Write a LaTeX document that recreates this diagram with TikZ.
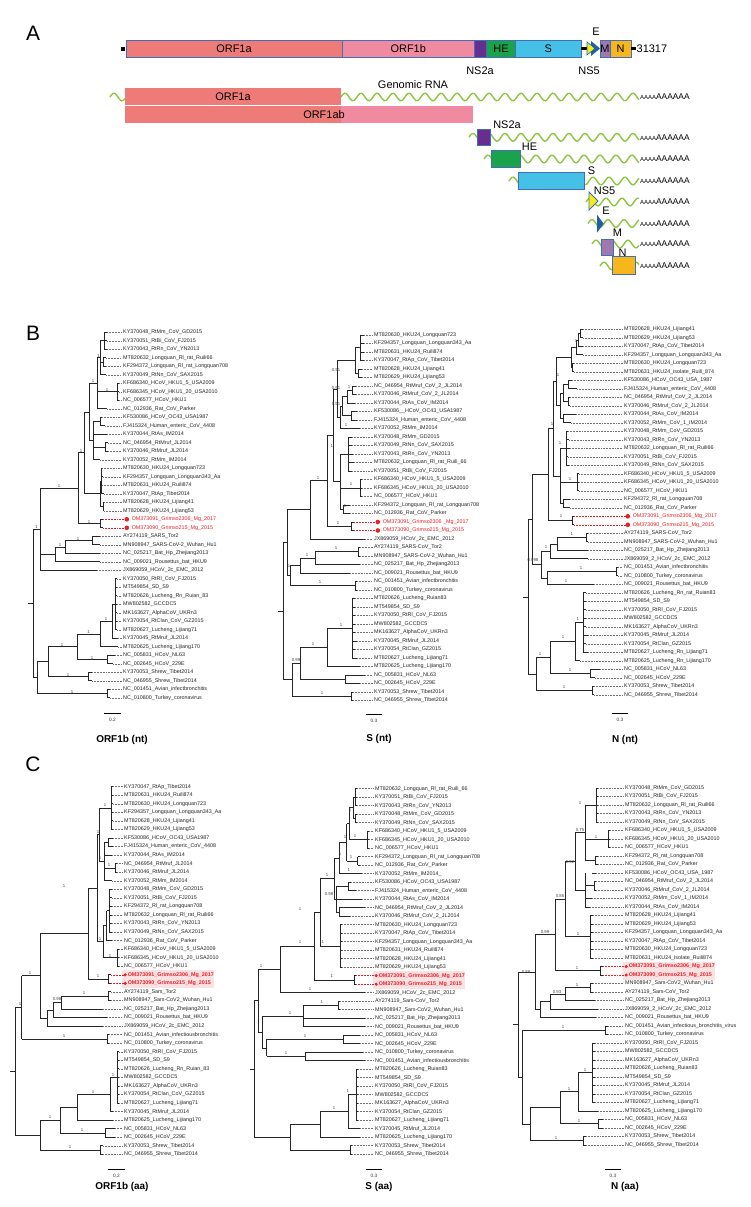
\documentclass[tikz,border=0pt]{standalone}
\usepackage{fontspec}
\setmainfont{Liberation Sans}
\usetikzlibrary{calc}
\definecolor{orfA}{RGB}{239,123,120}
\definecolor{orfB}{RGB}{240,138,160}
\definecolor{ns2aC}{RGB}{103,45,145}
\definecolor{heC}{RGB}{26,163,74}
\definecolor{sC}{RGB}{69,193,232}
\definecolor{ns5C}{RGB}{246,235,22}
\definecolor{eC}{RGB}{30,95,170}
\definecolor{mC}{RGB}{158,120,174}
\definecolor{nC}{RGB}{245,183,27}
\definecolor{bord}{RGB}{66,110,180}
\definecolor{wv}{RGB}{141,198,63}
\definecolor{redc}{RGB}{232,32,40}
\definecolor{hlc}{RGB}{251,226,226}
\newcounter{lfc}
\newcounter{spc}
\newcommand\tLX{123}
\newcommand\gA{\fontsize{11}{12}\selectfont}
\newcommand\tLF[4]{\stepcounter{lfc}%
  \draw[br] (#1,#3) -- (#2,#3);
  \draw[ld] (#2,#3) -- ({\tLX-1.5},#3);
  \node[lab] (lf\arabic{lfc}) at (\tLX,#3) {\detokenize{#4}};}
\newcommand\tRB[4]{\stepcounter{lfc}%
  \draw[br] (#1,#3) -- (#2,#3);
  \draw[ldr] (#2,#3) -- ({\tLX+1.2},#3);
  \node[circle, fill=redc, inner sep=0pt, minimum size=4.6bp] (dt\arabic{lfc}) at ({\tLX+3.8},#3) {};
  \node[labr] (lf\arabic{lfc}) at ({\tLX+8.6},#3) {\detokenize{#4}};}
\newcommand\tRC[4]{\stepcounter{lfc}%
  \draw[br] (#1,#3) -- (#2,#3);
  \draw[ldr] (#2,#3) -- ({\tLX-0.5},#3);
  \node[circle, fill=redc, inner sep=0pt, minimum size=3.4bp] (dt\arabic{lfc}) at ({\tLX+1.2},#3) {};
  \node[labrb] (lf\arabic{lfc}) at ({\tLX+3.6},#3) {\detokenize{#4}};}
\newcommand\tCL[4]{\draw[br] (#1,{(#3+#4)/2}) -- (#2,{(#3+#4)/2}) (#2,#3) -- (#2,#4);}
\newcommand\tSP[3]{\stepcounter{spc}\node[sup] (sp\arabic{spc}) at (#1,#2) {#3};}
\tikzset{
  br/.style={draw=black!85, line width=0.85bp},
  ld/.style={draw=black!55, line width=0.45bp, dash pattern=on 0.45bp off 1.1bp},
  ldr/.style={draw=redc, line width=0.45bp, dash pattern=on 0.45bp off 1.1bp},
  lab/.style={anchor=west, inner sep=0pt, font=\fontsize{5.4}{6}\selectfont, text=black!85},
  labr/.style={lab, text=redc},
  labrb/.style={lab, text=redc, font=\fontsize{5.4}{6}\selectfont\bfseries},
  sup/.style={anchor=south, inner sep=0.3bp, font=\fontsize{4.3}{5}\selectfont, text=black!75},
  box/.style={draw=bord, line width=0.8bp, inner sep=0pt, minimum height=17bp, font=\gA},
  wave/.style={draw=wv, line width=1.4bp},
  panel/.style={font=\fontsize{21}{21}\selectfont, inner sep=0pt},
  ttl/.style={font=\fontsize{10}{12}\selectfont\bfseries, inner sep=0pt},
  sbar/.style={draw=black, line width=0.9bp},
  snum/.style={font=\fontsize{4.8}{5}\selectfont, inner sep=0pt, text=black!80},
  gl/.style={font=\gA, inner sep=0.5bp}
}
\newcommand\twave[3]{\draw[wave] plot[domain=#1:#2, samples=160, smooth] (\x,{#3-3.8*sin(22.5*(\x-#1))});}
\newcommand\polyA[1]{\node[anchor=west, inner sep=0pt] at (640,#1) {{\fontsize{6}{6}\selectfont AAAA}{\fontsize{8.4}{8}\selectfont AAAAAA}};}
\begin{document}
\begin{tikzpicture}[x=1bp, y=-1bp]
\fill[white] (0,0) rectangle (751,1207);
\useasboundingbox (0,0) rectangle (751,1207);
% ---------------- panel letters
\node[panel] (pA) at (33,33) {A};
\node[panel] (pB) at (33,333) {B};
\node[panel] (pC) at (33,764) {C};
% ---------------- genome bar
\fill[black] (121,47) rectangle (125,50.5);
\node[box, fill=orfA, minimum width=216bp] (g1a) at (234,48.5) {ORF1a};
\node[box, fill=orfB, minimum width=132.5bp] (g1b) at (408.25,48.5) {ORF1b};
\node[box, fill=ns2aC, minimum width=12.1bp] (gns2a) at (480.55,48.5) {};
\node[box, fill=heC, minimum width=28.8bp] (ghe) at (501,48.5) {HE};
\node[box, fill=sC, minimum width=65.6bp] (gs) at (548.2,48.5) {S};
\draw[line width=3bp] (gs.east) -- (588,48.5);
\fill[eC] (591,41) -- (600,48.5) -- (591,56) -- cycle;
\filldraw[fill=ns5C, draw=eC, line width=0.6bp] (587,42) -- (595,48.5) -- (587,55) -- cycle;
\node[box, fill=mC, minimum width=10bp] (gm) at (605,48.5) {M};
\node[box, fill=nC, minimum width=21bp] (gn) at (620.5,48.5) {N};
\draw[line width=3bp] (gn.east) -- (636,48.5);
\node[gl, anchor=west] (glen) at (636,48.5) {31317};
\node[gl] (lE) at (596,32) {E};
\node[gl] (lNS2a) at (480,71) {NS2a};
\node[gl] (lNS5) at (589,71) {NS5};
% ---------------- transcripts
\node[gl] (lgen) at (413,84.5) {Genomic RNA};
\twave{110}{125}{97}
\twave{341}{639}{97}
\twave{469}{639}{137.3}
\twave{484}{639}{159}
\twave{509}{639}{181}
\twave{586}{639}{202}
\twave{588}{639}{223.5}
\twave{592}{639}{244}
\twave{600}{639}{266}
\polyA{97}\polyA{137.3}\polyA{159}\polyA{181}\polyA{202}\polyA{223.5}\polyA{244}\polyA{266}
\fill[orfA] (125,88) rectangle (341,105);
\node[gl] (t1a) at (233,96.5) {ORF1a};
\fill[orfA] (125,106) rectangle (341,123);
\fill[orfB] (341,106) rectangle (473,123);
\node[gl] (t1ab) at (324,114.5) {ORF1ab};
\node[box, fill=ns2aC, minimum width=13bp, minimum height=16.7bp] (tns2a) at (484,137.4) {};
\node[gl] (tlns2a) at (507,125) {NS2a};
\node[box, fill=heC, minimum width=29bp, minimum height=16.6bp] (the) at (505.5,159) {};
\node[gl] (tlhe) at (529.5,147) {HE};
\node[box, fill=sC, minimum width=65.3bp, minimum height=16.7bp] (ts) at (551.35,180.65) {};
\node[gl] (tls) at (591.5,170.7) {S};
\filldraw[fill=ns5C, draw=bord, line width=0.8bp] (589,192) -- (598,201) -- (589,210) -- cycle;
\node[gl] (tlns5) at (604.5,191) {NS5};
\fill[eC] (597,214.7) -- (603.6,223.7) -- (597,232.7) -- cycle;
\node[gl] (tle) at (606,210.7) {E};
\node[box, fill=mC, minimum width=11.5bp, minimum height=16.7bp] (tm) at (607.25,247.35) {};
\node[gl] (tlm) at (617.5,233) {M};
\node[box, fill=nC, minimum width=23.7bp, minimum height=17.3bp] (tn) at (623.85,265.35) {};
\node[gl] (tln) at (622.7,253) {N};
% =============== TREE B1  ORF1b (nt)
\renewcommand\tLX{123}
\begin{scope}[shift={(0,332.3)}, yscale=8.5]
\tLF{104}{107}{0}{KY370048_RtMm_CoV_GD2015}
\tLF{104}{107}{1}{KY370051_RtBi_CoV_FJ2015}
\tLF{104}{107}{2}{KY370043_RtRn_CoV_YN2013}
\tLF{103}{106}{3}{MT820632_Longquan_Rl_rat_Ruili66}
\tLF{103}{106}{4}{KF294372_Longquan_Rl_rat_Longquan708}
\tLF{100}{106}{5}{KY370049_RtNn_CoV_SAX2015}
\tLF{117}{119}{6}{KF686340_HCoV_HKU1_5_USA2009}
\tLF{117}{119}{7}{KF686345_HCoV_HKU1_20_USA2010}
\tLF{117}{119}{8}{NC_006577_HCoV_HKU1}
\tLF{97}{107}{9}{NC_012936_Rat_CoV_Parker}
\tLF{100}{102}{10}{KF530086_HCoV_OC43_USA1987}
\tLF{100}{105}{11}{FJ415324_Human_enteric_CoV_4408}
\tLF{93}{107}{12}{KY370044_RtAs_IM2014}
\tLF{105}{108}{13}{NC_046954_RtMruf_JL2014}
\tLF{105}{108}{14}{KY370046_RtMruf_JL2014}
\tLF{93}{100}{15}{KY370052_RtMm_IM2014}
\tLF{101}{102}{16}{MT820630_HKU24_Longquan723}
\tLF{101}{103}{17}{KF294357_Longquan_Longquan343_Aa}
\tLF{101}{102}{18}{MT820631_HKU24_Ruili874}
\tLF{101}{104}{19}{KY370047_RtAp_Tibet2014}
\tLF{103}{104}{20}{MT820628_HKU24_Lijiang41}
\tLF{103}{104}{21}{MT820629_HKU24_Lijiang53}
\tRB{100}{103}{22}{OM373091_Grimso2306_Mg_2017}
\tRB{100}{103}{23}{OM373090_Grimso215_Mg_2015}
\tLF{92}{100}{24}{AY274119_SARS_Tor2}
\tLF{92}{100}{25}{MN908947_SARS-CoV-2_Wuhan_Hu1}
\tLF{65}{100}{26}{NC_025217_Bat_Hp_Zhejiang2013}
\tLF{55}{100}{27}{NC_009021_Rousettus_bat_HKU9}
\tLF{40}{97}{28}{JX869059_HCoV_2c_EMC_2012}
\tLF{115}{117}{29}{KY370050_RtRl_CoV_FJ2015}
\tLF{115}{117}{30}{MT549854_SD_S9}
\tLF{115}{117}{31}{MT820626_Lucheng_Rn_Ruian_83}
\tLF{115}{117}{32}{MW802582_GCCDC5}
\tLF{115}{117}{33}{MK163627_AlphaCoV_UKRn3}
\tLF{115}{117}{34}{KY370054_RtClan_CoV_GZ2015}
\tLF{115}{117}{35}{MT820627_Lucheng_Lijiang71}
\tLF{112}{118}{36}{KY370045_RtMruf_JL2014}
\tLF{100}{118}{37}{MT820625_Lucheng_Lijiang170}
\tLF{107}{115}{38}{NC_005831_HCoV_NL63}
\tLF{107}{113}{39}{NC_002645_HCoV_229E}
\tLF{88}{92}{40}{KY370053_Shrew_Tibet2014}
\tLF{88}{92}{41}{NC_046955_Shrew_Tibet2014}
\tLF{107}{110}{42}{NC_001451_Avian_infectbronchitis}
\tLF{107}{110}{43}{NC_010800_Turkey_coronavirus}
\tCL{100}{104}{0}{2}
\tCL{100}{103}{3}{4}
\tCL{97}{100}{1}{5}
\tCL{97}{117}{6}{8}
\tCL{89}{97}{3}{9}
\tCL{93}{100}{10}{11}
\tCL{93}{105}{13}{14}
\tCL{89}{93}{10.5}{15}
\tCL{84}{89}{6}{12.75}
\tCL{100}{101}{16}{19}
\tCL{100}{103}{20}{21}
\tCL{84}{100}{17.5}{20.5}
\tCL{78}{84}{9.375}{19}
\tCL{78}{100}{22}{23}
\tCL{40}{78}{14.1875}{22.5}
\tCL{65}{92}{24}{25}
\tCL{55}{65}{24.5}{26}
\tCL{40}{55}{25.25}{27}
\tCL{33}{40}{18.34}{28}
\tCL{112}{115}{29}{35}
\tCL{100}{112}{32}{36}
\tCL{77}{100}{34}{37}
\tCL{77}{107}{38}{39}
\tCL{48}{77}{35.5}{38.5}
\tCL{48}{88}{40}{41}
\tCL{37}{48}{37}{40.5}
\tCL{37}{107}{42}{43}
\tCL{33}{37}{38.75}{42.5}
\draw[br] (33,23.17) -- (33,40.625) (28,31.9) -- (33,31.9);
\tSP{98.5}{3}{1}\tSP{107}{7}{1}\tSP{93}{6}{1}\tSP{81}{14.19}{1}\tSP{59}{18.34}{1}
\tSP{89}{22.5}{1}\tSP{36.5}{23.17}{1}\tSP{60}{25.25}{1}\tSP{78}{24.5}{1}\tSP{106}{34}{1}
\tSP{88.5}{35.5}{1}\tSP{92}{38.5}{1}\tSP{62}{37}{1}\tSP{72}{42.5}{1}\tSP{68}{40.5}{1}
\end{scope}
\draw[sbar] (104,713) -- (121,713);
\node[snum] (sb1) at (112.5,719.5) {0.2};
\node[ttl] (tb1) at (122,740) {ORF1b (nt)};
% =============== TREE B2  S (nt)
\renewcommand\tLX{374}
\begin{scope}[shift={(0,335)}, yscale=8.5]
\tLF{360}{364}{0}{MT820630_HKU24_Longquan723}
\tLF{360}{364}{1}{KF294357_Longquan_Longquan343_Aa}
\tLF{360}{364}{2}{MT820631_HKU24_Ruili874}
\tLF{360}{364}{3}{KY370047_RtAp_CoV_Tibet2014}
\tLF{358}{362}{4}{MT820628_HKU24_Lijiang41}
\tLF{358}{362}{5}{MT820629_HKU24_Lijiang53}
\tLF{352}{356}{6}{NC_046954_RtMruf_CoV_2_JL2014}
\tLF{352}{356}{7}{KY370046_RtMruf_CoV_2_JL2014}
\tLF{347}{355}{8}{KY370044_RtAs_CoV_IM2014}
\tLF{351}{357}{9}{KF530086__HCoV_OC43_USA1987}
\tLF{351}{357}{10}{FJ415324_Human_enteric_CoV_4408}
\tLF{340}{360}{11}{KY370052_RtMm_IM2014}
\tLF{348}{352}{12}{KY370048_RtMm_GD2015}
\tLF{348}{352}{13}{KY370049_RtNn_CoV_SAX2015}
\tLF{348}{353}{14}{KY370043_RtRn_CoV_YN2013}
\tLF{348}{354}{15}{MT820632_Longquan_Rl_rat_Ruili_66}
\tLF{348}{352}{16}{KY370051_RtBi_CoV_FJ2015}
\tLF{360}{362}{17}{KF686340_HCoV_HKU1_5_USA2009}
\tLF{360}{362}{18}{KF686345_HCoV_HKU1_20_USA2010}
\tLF{360}{362}{19}{NC_006577_HCoV_HKU1}
\tLF{343}{350}{20}{KF294372_Longquan_Rl_rat_Longquan708}
\tLF{343}{350}{21}{NC_012936_Rat_CoV_Parker}
\tRB{351}{354}{22}{OM373091_Grimso2306 _Mg_2017}
\tRB{351}{354}{23}{OM373090_Grimso215_Mg_2015}
\tLF{310}{365}{24}{JX869059_HCoV_2c_EMC_2012}
\tLF{358}{360}{25}{AY274119_SARS-CoV_Tor2}
\tLF{358}{360}{26}{MN908947_SARS-CoV-2_Wuhan_Hu1}
\tLF{315}{360}{27}{NC_025217_Bat_Hp_Zhejiang2013}
\tLF{300}{350}{28}{NC_009021_Rousettus_bat_HKU9}
\tLF{355}{357}{29}{NC_001451_Avian_infectbronchitis}
\tLF{355}{357}{30}{NC_010800_Turkey_coronavirus}
\tLF{352}{355}{31}{MT820626_Lucheng_Ruian83}
\tLF{352}{355}{32}{MT549854_SD_S9}
\tLF{352}{355}{33}{KY370050_RtRl_CoV_FJ2015}
\tLF{352}{355}{34}{MW802582_GCCDC5}
\tLF{352}{355}{35}{MK163627_AlphaCoV_UKRn3}
\tLF{352}{357}{36}{KY370045_RtMruf_JL2014}
\tLF{352}{355}{37}{KY370054_RtClan_GZ2015}
\tLF{352}{357}{38}{MT820627_Lucheng_Lijiang71}
\tLF{327}{360}{39}{MT820625_Lucheng_Lijiang170}
\tLF{345}{365}{40}{NC_005831_HCoV_NL63}
\tLF{345}{360}{41}{NC_002645_HCoV_229E}
\tLF{351}{353}{42}{KY370053_Shrew_Tibet2014}
\tLF{351}{353}{43}{NC_046955_Shrew_Tibet2014}
\tCL{355}{360}{0}{3}
\tCL{355}{358}{4}{5}
\tCL{337}{355}{1.5}{4.5}
\tCL{347}{352}{6}{7}
\tCL{342}{347}{6.5}{8}
\tCL{342}{351}{9}{10}
\tCL{340}{342}{7.25}{9.5}
\tCL{337}{340}{8.375}{11}
\tCL{333}{337}{3}{9.6875}
\tCL{340}{348}{12}{16}
\tCL{340}{360}{17}{19}
\tCL{340}{343}{20}{21}
\tCL{333}{340}{14}{20.5}
\tCL{327}{333}{6.34}{17.25}
\tCL{327}{351}{22}{23}
\tCL{310}{327}{11.8}{22.5}
\tCL{287}{310}{17.15}{24}
\tCL{315}{358}{25}{26}
\tCL{300}{315}{25.5}{27}
\tCL{290}{300}{26.25}{28}
\tCL{290}{355}{29}{30}
\tCL{287}{290}{27.125}{29.5}
\tCL{283}{287}{20.57}{28.31}
\tCL{327}{352}{31}{38}
\tCL{300}{327}{34.5}{39}
\tCL{300}{345}{40}{41}
\tCL{292}{300}{36.75}{40.5}
\tCL{292}{351}{42}{43}
\tCL{283}{292}{38.625}{42.5}
\draw[br] (283,24.44) -- (283,40.56) (278,32.5) -- (283,32.5);
\tSP{336}{4.4}{0.91}\tSP{336}{6.5}{0.91}\tSP{336}{8.4}{0.91}\tSP{349}{6.3}{1}
\tSP{346}{10.8}{1}\tSP{331.7}{13.3}{1}\tSP{318}{17.1}{1}\tSP{351}{17.8}{1}\tSP{345}{20.3}{1}
\tSP{338}{22.3}{1}\tSP{336}{25.3}{1}\tSP{307}{26.1}{1}\tSP{320}{29.3}{1}\tSP{289}{27.4}{1}
\tSP{341}{34.3}{1}\tSP{313}{36.6}{1}\tSP{296}{38.5}{0.99}\tSP{322}{42.3}{1}
\end{scope}
\draw[sbar] (366,714) -- (382,714);
\node[snum] (sb2) at (374,720.5) {0.3};
\node[ttl] (tb2) at (379,739) {S (nt)};
% =============== TREE B3  N (nt)
\renewcommand\tLX{624}
\begin{scope}[shift={(0,329.3)}, yscale=8.5]
\tLF{580}{583}{0}{MT820628_HKU24_Lijiang41}
\tLF{580}{583}{1}{MT820629_HKU24_Lijiang53}
\tLF{578}{583}{2}{KY370047_RtAp_CoV_Tibet2014}
\tLF{576}{583}{3}{KF294357_Longquan_Longquan343_Aa}
\tLF{572}{574}{4}{MT820630_HKU24_Longquan723}
\tLF{572}{574}{5}{MT820631_HKU24_isolate_Ruili_874}
\tLF{568}{572}{6}{KF530086_HCoV_OC43_USA_1987}
\tLF{568}{577}{7}{FJ415324_Human_enteric_CoV_4408}
\tLF{568}{570}{8}{NC_046954_RtMruf_CoV_2_JL2014}
\tLF{568}{570}{9}{KY370046_RtMruf_CoV_2_JL2014}
\tLF{563}{576}{10}{KY370044_RtAs_CoV_IM2014}
\tLF{563}{571}{11}{KY370052_RtMm_CoV_1_IM2014}
\tLF{566}{568}{12}{KY370048_RtMm_CoV_GD2015}
\tLF{566}{569}{13}{KY370043_RtRn_CoV_YN2013}
\tLF{566}{570}{14}{MT820632_Longquan_Rl_rat_Ruili66}
\tLF{566}{568}{15}{KY370051_RtBi_CoV_FJ2015}
\tLF{566}{569}{16}{KY370049_RtNn_CoV_SAX2015}
\tLF{577}{579}{17}{KF686340_HCoV_HKU1_5_USA2009}
\tLF{577}{579}{18}{KF686345_HCoV_HKU1_20_USA2010}
\tLF{577}{579}{19}{NC_006577_HCoV_HKU1}
\tLF{563}{570}{20}{KF294372_Rl_rat_Longquan708}
\tLF{563}{570}{21}{NC_012936_Rat_CoV_Parker}
\tRB{572}{574}{22}{OM373091_Grimso2306_Mg_2017}
\tRB{572}{574}{23}{OM373090_Grimso215_Mg_2015}
\tLF{586}{588}{24}{AY274119_SARS-CoV_Tor2}
\tLF{586}{588}{25}{MN908947_SARS-CoV-2_Wuhan_Hu1}
\tLF{557}{588}{26}{NC_025217_Bat_Hp_Zhejiang2013}
\tLF{550}{588}{27}{JX869059_2_HCoV_2c_EMC_2012}
\tLF{616}{618}{28}{NC_001451_Avian_infectbronchitis}
\tLF{616}{618}{29}{NC_010800_Turkey_coronavirus}
\tLF{547}{594}{30}{NC_009021_Rousettus_bat_HKU9}
\tLF{583}{586}{31}{MT820626_Lucheng_Rn_rat_Ruian83}
\tLF{583}{586}{32}{MT549854_SD_S9}
\tLF{583}{586}{33}{KY370050_RtRl_CoV_FJ2015}
\tLF{583}{586}{34}{MW802582_GCCDC5}
\tLF{583}{586}{35}{MK163627_AlphaCoV_UKRn3}
\tLF{583}{588}{36}{KY370045_RtMruf_JL2014}
\tLF{583}{586}{37}{KY370054_RtClan_GZ2015}
\tLF{583}{588}{38}{MT820627_Lucheng_Rn_Lijiang71}
\tLF{575}{580}{39}{MT820625_Lucheng_Rn_Lijiang170}
\tLF{590}{600}{40}{NC_005831_HCoV_NL63}
\tLF{590}{595}{41}{NC_002645_HCoV_229E}
\tLF{592}{594}{42}{KY370053_Shrew_Tibet2014}
\tLF{592}{594}{43}{NC_046955_Shrew_Tibet2014}
\tCL{578}{580}{0}{1}
\tCL{576}{578}{0.5}{2}
\tCL{571}{576}{1.25}{3}
\tCL{571}{572}{4}{5}
\tCL{556}{571}{2.125}{4.5}
\tCL{563}{568}{6}{7}
\tCL{563}{568}{8}{9}
\tCL{560}{563}{6.5}{8.5}
\tCL{560}{563}{10}{11}
\tCL{556}{560}{7.5}{10.5}
\tCL{553}{556}{3.31}{9}
\tCL{560}{566}{12}{16}
\tCL{560}{577}{17}{19}
\tCL{560}{563}{20}{21}
\tCL{553}{560}{14}{20.5}
\tCL{548}{553}{6.16}{17.25}
\tCL{548}{572}{22}{23}
\tCL{532}{548}{11.7}{22.5}
\tCL{557}{586}{24}{25}
\tCL{550}{557}{24.5}{26}
\tCL{541}{550}{25.25}{27}
\tCL{547}{616}{28}{29}
\tCL{541}{547}{28.5}{30}
\tCL{532}{541}{26.125}{29.25}
\tCL{528}{532}{17.1}{27.69}
\tCL{575}{583}{31}{38}
\tCL{550}{575}{34.5}{39}
\tCL{550}{590}{40}{41}
\tCL{536}{550}{36.75}{40.5}
\tCL{536}{592}{42}{43}
\tCL{528}{536}{38.625}{42.5}
\draw[br] (528,22.4) -- (528,40.56) (523,31.5) -- (528,31.5);
\tSP{576}{1.6}{1}\tSP{558}{5.6}{1}\tSP{552}{11.4}{1}\tSP{560}{13.6}{1}\tSP{570}{17.8}{1}
\tSP{561}{22.2}{1}\tSP{571.7}{24.3}{1}\tSP{546}{25.9}{1}\tSP{533}{27.4}{0.998}\tSP{581}{28.3}{1}
\tSP{566}{29.9}{1}\tSP{577.7}{34.3}{1}\tSP{563}{36.4}{1}\tSP{540}{38.4}{1}\tSP{570}{40.3}{1}\tSP{564}{42.3}{1}
\end{scope}
\draw[sbar] (612,713) -- (628,713);
\node[snum] (sb3) at (620,719.5) {0.3};
\node[ttl] (tb3) at (625,740) {N (nt)};
% =============== TREE C1  ORF1b (aa)
\renewcommand\tLX{124}
\begin{scope}[shift={(0,786.7)}, yscale=8.55]
\fill[hlc] ({\tLX-2.5},21.42) rectangle ({\tLX+90},23.58);
\tLF{111}{113}{0}{KY370047_RtAp_Tibet2014}
\tLF{111}{113}{1}{MT820631_HKU24_Ruili874}
\tLF{111}{113}{2}{MT820630_HKU24_Longquan723}
\tLF{111}{113}{3}{KF294357_Longquan_Longquan343_Aa}
\tLF{111}{113}{4}{MT820628_HKU24_Lijiang41}
\tLF{111}{113}{5}{MT820629_HKU24_Lijiang53}
\tLF{108}{113}{6}{KF530086_HCoV_OC43_USA1987}
\tLF{108}{113}{7}{FJ415324_Human_enteric_CoV_4408}
\tLF{104}{112}{8}{KY370044_RtAs_IM2014}
\tLF{115}{117}{9}{NC_046954_RtMruf_JL2014}
\tLF{115}{117}{10}{KY370046_RtMruf_JL2014}
\tLF{104}{112}{11}{KY370052_RtMm_IM2014}
\tLF{109}{112}{12}{KY370048_RtMm_CoV_GD2015}
\tLF{109}{112}{13}{KY370051_RtBi_CoV_FJ2015}
\tLF{109}{112}{14}{KF294372_Rl_rat_Longquan708}
\tLF{109}{112}{15}{MT820632_Longquan_Rl_rat_Ruili66}
\tLF{109}{112}{16}{KY370043_RtRn_CoV_YN2013}
\tLF{109}{112}{17}{KY370049_RtNn_CoV_SAX2015}
\tLF{106.7}{112}{18}{NC_012936_Rat_CoV_Parker}
\tLF{117}{119}{19}{KF686340_HCoV_HKU1_5_USA2009}
\tLF{117}{119}{20}{KF686345_HCoV_HKU1_20_USA2010}
\tLF{117}{119}{21}{NC_006577_HCoV_HKU1}
\tRC{108}{111}{22}{OM373091_Grimso2306_Mg_2017}
\tRC{108}{111}{23}{OM373090_Grimso215_Mg_2015}
\tLF{108}{111}{24}{AY274119_Sars_Tor2}
\tLF{108}{111}{25}{MN908947_Sars-CoV2_Wuhan_Hu1}
\tLF{61}{103}{26}{NC_025217_Bat_Hp_Zhejiang2013}
\tLF{53}{107}{27}{NC_009021_Rousettus_bat_HKU9}
\tLF{47}{103}{28}{JX869059_HCoV_2c_EMC_2012}
\tLF{107}{109}{29}{NC_001451_Avian_infectiousbronchitis}
\tLF{107}{109}{30}{NC_010800_Turkey_coronavirus}
\tLF{117}{119}{31}{KY370050_RtRl_CoV_FJ2015}
\tLF{117}{119}{32}{MT549854_SD_S9}
\tLF{117}{119}{33}{MT820626_Lucheng_Rn_Ruian_83}
\tLF{117}{119}{34}{MW802582_GCCDC5}
\tLF{117}{119}{35}{MK163627_AlphaCoV_UKRn3}
\tLF{117}{119}{36}{KY370054_RtClan_CoV_GZ2015}
\tLF{117}{119}{37}{MT820627_Lucheng_Lijiang71}
\tLF{110}{113}{38}{KY370045_RtMruf_JL2014}
\tLF{77}{113}{39}{MT820625_Lucheng_Lijiang170}
\tLF{105}{115}{40}{NC_005831_HCoV_NL63}
\tLF{105}{115}{41}{NC_002645_HCoV_229E}
\tLF{100}{103}{42}{KY370053_Shrew_Tibet2014}
\tLF{100}{103}{43}{NC_046955_Shrew_Tibet2014}
\tCL{99}{111}{0}{5}
\tCL{104}{108}{6}{7}
\tCL{104}{115}{9}{10}
\tCL{99}{104}{6.5}{11}
\tCL{97}{99}{2.5}{8.75}
\tCL{106.7}{109}{12}{17}
\tCL{103}{106.7}{14.5}{18}
\tCL{103}{117}{19}{21}
\tCL{97}{103}{16.25}{20}
\tCL{88}{97}{5.625}{18.125}
\tCL{88}{108}{22}{23}
\tCL{40}{88}{11.875}{22.5}
\tCL{61}{108}{24}{25}
\tCL{53}{61}{24.5}{26}
\tCL{47}{53}{25.25}{27}
\tCL{40}{47}{26.125}{28}
\tCL{21.7}{40}{17.19}{27.06}
\tCL{21.7}{107}{29}{30}
\tCL{15}{21.7}{22.125}{29.5}
\tCL{110}{117}{31}{37}
\tCL{77}{110}{34}{38}
\tCL{60}{77}{36}{39}
\tCL{60}{105}{40}{41}
\tCL{40}{60}{37.5}{40.5}
\tCL{40}{100}{42}{43}
\tCL{15}{40}{39}{42.5}
\draw[br] (15,25.8) -- (15,40.75) (10,33.3) -- (15,33.3);
\tSP{105}{2.4}{1}\tSP{98}{5.5}{1}\tSP{100}{8.6}{1}\tSP{109}{9.4}{1}\tSP{100}{18}{1}
\tSP{110}{20}{1}\tSP{98}{22.4}{1}\tSP{64}{11.8}{1}\tSP{30}{22}{1}\tSP{84}{24.4}{1}
\tSP{57}{25.1}{0.98}\tSP{64}{29.4}{1}\tSP{20}{25.7}{1}\tSP{93}{35.9}{1}\tSP{113}{33.9}{1}
\tSP{82}{40.4}{1}\tSP{70}{42.4}{1}\tSP{50}{38.9}{1}
\end{scope}
\draw[sbar] (108,1169) -- (125,1169);
\node[snum] (sb4) at (116.5,1175.5) {0.2};
\node[ttl] (tc1) at (122,1187) {ORF1b (aa)};
% =============== TREE C2  S (aa)
\renewcommand\tLX{375}
\begin{scope}[shift={(0,788.7)}, yscale=8.5]
\fill[hlc] ({\tLX-2.5},21.42) rectangle ({\tLX+90},23.58);
\tLF{355}{357}{0}{MT820632_Longquan_Rl_rat_Ruili_66}
\tLF{355}{357}{1}{KY370051_RtBi_CoV_FJ2015}
\tLF{355}{357}{2}{KY370043_RtRn_CoV_YN2013}
\tLF{355}{357}{3}{KY370048_RtMm_CoV_GD2015}
\tLF{355}{357}{4}{KY370049_RtNn_CoV_SAX2015}
\tLF{367}{369}{5}{KF686340_HCoV_HKU1_5_USA2009}
\tLF{367}{369}{6}{KF686345_HCoV_HKU1_20_USA2010}
\tLF{367}{369}{7}{NC_006577_HCoV_HKU1}
\tLF{357.7}{360}{8}{KF294372_Longquan_Rl_rat_Longquan708}
\tLF{357.7}{360}{9}{NC_012936_Rat_CoV_Parker}
\tLF{339}{362}{10}{KY370052_RtMm_IM2014_}
\tLF{348}{351}{11}{KF530086_HCoV_OC43_USA1987}
\tLF{348}{356}{12}{FJ415324_Human_enteric_CoV_4408}
\tLF{336}{362}{13}{KY370044_RtAs_CoV_IM2014}
\tLF{339}{365}{14}{NC_046954_RtMruf_CoV_2_JL2014}
\tLF{339}{350}{15}{KY370046_RtMruf_CoV_2_JL2014}
\tLF{340}{342}{16}{MT820630_HKU24_Longquan723}
\tLF{340}{342}{17}{KY370047_RtAp_CoV_Tibet2014}
\tLF{340}{342}{18}{KF294357_Longquan_Longquan343_Aa}
\tLF{340}{342}{19}{MT820631_HKU24_Ruili874}
\tLF{340}{342}{20}{MT820628_HKU24_Lijiang41}
\tLF{340}{342}{21}{MT820629_HKU24_Lijiang53}
\tRC{354}{356}{22}{OM373091_Grimso2306_Mg_2017}
\tRC{354}{356}{23}{OM373090_Grimso215_Mg_2015}
\tLF{280}{365}{24}{JX869059_HCoV_2c_EMC_2012}
\tLF{338}{340}{25}{AY274119_Sars-CoV_Tor2}
\tLF{338}{340}{26}{MN908947_Sars-CoV2_Wuhan_Hu1}
\tLF{303}{365}{27}{NC_025217_Bat_Hp_Zhejiang2013}
\tLF{303}{365}{28}{NC_009021_Rousettus_bat_HKU9}
\tLF{343}{360}{29}{NC_005831_HCoV_NL63}
\tLF{343}{360}{30}{NC_002645_HCoV_229E}
\tLF{305}{363}{31}{NC_010800_Turkey_coronavirus}
\tLF{305}{365}{32}{NC_001451_Avian_infectiousbronchitis}
\tLF{356}{358}{33}{MT820626_Lucheng_Ruian83}
\tLF{356}{358}{34}{MT549854_SD_S9}
\tLF{356}{358}{35}{KY370050_RtRl_CoV_FJ2015}
\tLF{356}{358}{36}{MW802582_GCCDC5}
\tLF{356}{358}{37}{MK163627_AlphaCoV_UKRn3}
\tLF{356}{358}{38}{KY370054_RtClan_GZ2015}
\tLF{356}{358}{39}{MT820627_Lucheng_Lijiang71}
\tLF{348}{360}{40}{KY370045_RtMruf_JL2014}
\tLF{320}{360}{41}{MT820625_Lucheng_Lijiang170}
\tLF{350}{352}{42}{KY370053_Shrew_Tibet2014}
\tLF{350}{352}{43}{NC_046955_Shrew_Tibet2014}
\tCL{353}{355}{0}{2}
\tCL{353}{355}{3}{4}
\tCL{349}{353}{1}{3.5}
\tCL{349}{367}{5}{7}
\tCL{346.7}{349}{2.25}{6}
\tCL{346.7}{357.7}{8}{9}
\tCL{339}{346.7}{4.125}{8.5}
\tCL{334}{339}{6.31}{10}
\tCL{336}{348}{11}{12}
\tCL{336}{339}{14}{15}
\tCL{334}{336}{11.5}{14.5}
\tCL{320}{334}{8.16}{13}
\tCL{320}{340}{16}{21}
\tCL{314}{320}{10.58}{18.5}
\tCL{314}{354}{22}{23}
\tCL{280}{314}{14.54}{22.5}
\tCL{258}{280}{18.52}{24}
\tCL{303}{338}{25}{26}
\tCL{262}{303}{25.5}{28}
\tCL{266.7}{343}{29}{30}
\tCL{266.7}{305}{31}{32}
\tCL{262}{266.7}{29.5}{31.5}
\tCL{258}{262}{26.75}{30.5}
\tCL{254}{258}{21.26}{28.625}
\tCL{348}{356}{33}{39}
\tCL{320}{348}{36}{40}
\tCL{290}{320}{38}{41}
\tCL{290}{350}{42}{43}
\tCL{254}{290}{39.5}{42.5}
\draw[br] (254,24.94) -- (254,41) (250,32.97) -- (254,32.97);
\tSP{350}{2.7}{1}\tSP{355}{5.8}{1}\tSP{345}{5.9}{1}\tSP{351}{8.3}{1}\tSP{340}{7.9}{1}
\tSP{348.7}{9.8}{1}\tSP{329}{12.6}{0.98}\tSP{327}{10.4}{1}\tSP{322.7}{18.3}{1}\tSP{300}{14.4}{1}
\tSP{331.7}{22.3}{1}\tSP{300}{18.3}{1}\tSP{310}{23.8}{1}\tSP{261}{21.1}{1}\tSP{321.7}{25.3}{1}
\tSP{290}{26.6}{1}\tSP{305}{29.3}{1}\tSP{286}{31.3}{1}\tSP{347.7}{35.8}{1}\tSP{334}{37.8}{1}
\end{scope}
\draw[sbar] (366,1169) -- (382,1169);
\node[snum] (sb5) at (374,1175.5) {0.3};
\node[ttl] (tc2) at (379,1187) {S (aa)};
% =============== TREE C3  N (aa)
\renewcommand\tLX{625}
\begin{scope}[shift={(0,788)}, yscale=8.5]
\fill[hlc] ({\tLX-2.5},20.42) rectangle ({\tLX+90},22.58);
\tLF{596}{598}{0}{KY370048_RtMm_CoV_GD2015}
\tLF{596}{598}{1}{KY370051_RtBi_CoV_FJ2015}
\tLF{596}{598}{2}{MT820632_Longquan_Rl_rat_Ruili66}
\tLF{596}{598}{3}{KY370043_RtRn_CoV_YN2013}
\tLF{596}{598}{4}{KY370049_RtNn_CoV_SAX2015}
\tLF{608}{610}{5}{KF686340_HCoV_HKU1_5_USA2009}
\tLF{608}{610}{6}{KF686345_HCoV_HKU1_20_USA2010}
\tLF{608}{610}{7}{NC_006577_HCoV_HKU1}
\tLF{595}{598}{8}{KF294372_Rl_rat_Longquan708}
\tLF{595}{598}{9}{NC_012936_Rat_CoV_Parker}
\tLF{592}{596}{10}{KF530086_HCoV_OC43_USA_1987}
\tLF{594}{596}{11}{NC_046954_RtMruf_CoV_2_JL2014}
\tLF{594}{596}{12}{KY370046_RtMruf_CoV_2_JL2014}
\tLF{585}{592}{13}{KY370052_RtMm_CoV_1_IM2014}
\tLF{585}{590}{14}{KY370044_RtAs_CoV_IM2014}
\tLF{590}{593}{15}{MT820628_HKU24_Lijiang41}
\tLF{590}{593}{16}{MT820629_HKU24_Lijiang53}
\tLF{590}{593}{17}{KF294357_Longquan_Longquan343_Aa}
\tLF{590}{593}{18}{KY370047_RtAp_CoV_Tibet2014}
\tLF{590}{593}{19}{MT820630_HKU24_Longquan723}
\tLF{590}{593}{20}{MT820631_HKU24_isolate_Ruili874}
\tRC{600}{603}{21}{OM373091_Grimso2306_Mg_2017}
\tRC{600}{603}{22}{OM373090_Grimso215_Mg_2015}
\tLF{590}{593}{23}{MN908947_Sars-CoV2_Wuhan_Hu1}
\tLF{590}{593}{24}{AY274119_Sars-CoV_Tor2}
\tLF{565}{595}{25}{NC_025217_Bat_Hp_Zhejiang2013}
\tLF{550}{598}{26}{JX869059_2_HCoV_2c_EMC_2012}
\tLF{540}{596}{27}{NC_009021_Rousettus_bat_HKU9}
\tLF{605}{608}{28}{NC_001451_Avian_infectious_bronchitis_virus}
\tLF{605}{608}{29}{NC_010800_Turkey_coronavirus}
\tLF{592}{595}{30}{KY370050_RtRl_CoV_FJ2015}
\tLF{592}{595}{31}{MW802582_GCCDC5}
\tLF{592}{595}{32}{MK163627_AlphaCoV_UKRn3}
\tLF{592}{595}{33}{MT820626_Lucheng_Ruian83}
\tLF{592}{595}{34}{MT549854_SD_S9}
\tLF{592}{595}{35}{KY370045_RtMruf_JL2014}
\tLF{592}{595}{36}{KY370054_RtClan_GZ2015}
\tLF{592}{595}{37}{MT820627_Lucheng_Lijiang71}
\tLF{578}{598}{38}{MT820625_Lucheng_Lijiang170}
\tLF{598}{603}{39}{NC_005831_HCoV_NL63}
\tLF{598}{603}{40}{NC_002645_HCoV_229E}
\tLF{583}{586}{41}{KY370053_Shrew_Tibet2014}
\tLF{583}{586}{42}{NC_046955_Shrew_Tibet2014}
\tCL{585}{596}{0}{4}
\tCL{585}{608}{5}{7}
\tCL{585}{595}{8}{9}
\tCL{575}{585}{2}{8.5}
\tCL{585}{594}{11}{12}
\tCL{575}{585}{10}{14}
\tCL{565}{575}{5.25}{12}
\tCL{565}{590}{15}{20}
\tCL{555}{565}{8.625}{17.5}
\tCL{555}{600}{21}{22}
\tCL{535}{555}{13.06}{21.5}
\tCL{565}{590}{23}{24}
\tCL{550}{565}{23.5}{25}
\tCL{540}{550}{24.25}{26}
\tCL{535}{540}{25.125}{27}
\tCL{518}{535}{17.28}{26.06}
\tCL{522}{605}{28}{29}
\tCL{578}{592}{30}{37}
\tCL{560}{578}{33.5}{38}
\tCL{560}{598}{39}{40}
\tCL{530}{560}{35.75}{39.5}
\tCL{530}{583}{41}{42}
\tCL{522}{530}{37.625}{41.5}
\tCL{518}{522}{28.5}{39.56}
\draw[br] (518,21.67) -- (518,34.03) (513,27.85) -- (518,27.85);
\tSP{580}{2}{1}\tSP{596}{6}{1}\tSP{580}{5.2}{0.75}\tSP{570}{8.9}{0.92}\tSP{578}{17.4}{1}
\tSP{560}{13}{0.85}\tSP{577}{21.4}{1}\tSP{545}{17.2}{0.99}\tSP{577}{23.4}{1}\tSP{557}{24.2}{0.93}
\tSP{526}{21.9}{0.88}\tSP{563}{28.4}{1}\tSP{585}{33.4}{1}\tSP{569}{35.7}{1}\tSP{579}{39.4}{1}\tSP{556}{41.4}{1}
\end{scope}
\draw[sbar] (605,1169) -- (621,1169);
\node[snum] (sb6) at (613,1175.5) {0.3};
\node[ttl] (tc3) at (625,1187) {N (aa)};
\end{tikzpicture}
\end{document}
